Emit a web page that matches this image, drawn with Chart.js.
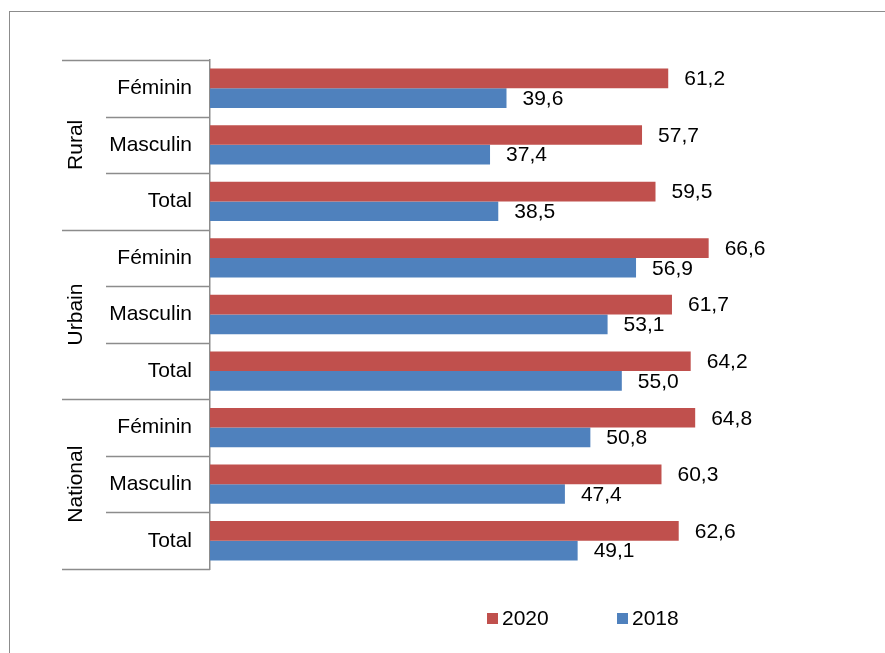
<!DOCTYPE html>
<html>
<head>
<meta charset="utf-8">
<script src="https://cdn.jsdelivr.net/npm/chart.js@4"></script>
<style>
    body { margin: 0; background: #fff; overflow: hidden; }
    #frame { position: absolute; left: 9px; top: 11px; width: 900px; height: 700px; border: 1.5px solid #8c8c8c; }
    #barChart { position: absolute; left: 0; top: 0; }
</style>
</head>
<body>
<div id="frame"></div>
<canvas id="barChart" width="885" height="653"></canvas>
<script>
const categories = ["Féminin", "Masculin", "Total", "Féminin", "Masculin", "Total", "Féminin", "Masculin", "Total"];
const groups = ["Rural", "Urbain", "National"];
const seriesNames = ["2020", "2018"];
const values2020 = [61.2, 57.7, 59.5, 66.6, 61.7, 64.2, 64.8, 60.3, 62.6];
const values2018 = [39.6, 37.4, 38.5, 56.9, 53.1, 55.0, 50.8, 47.4, 49.1];

const colors = ["#C0504D", "#4F81BD"];
const FONT = '"Liberation Sans", Arial, sans-serif';
const LINE = "#8c8c8c";

// draws the group labels, row separators, value labels and legend
const extras = {
    id: "extras",
    afterDraw(chart) {
        const ctx = chart.ctx;
        const area = chart.chartArea;
        const yScale = chart.scales.y;
        const n = categories.length;
        const step = (area.bottom - area.top) / n;

        ctx.save();
        ctx.strokeStyle = LINE;
        ctx.lineWidth = 1.5;
        for (let i = 0; i <= n; i++) {
            const y = Math.round(area.top + i * step) + 0.5;
            ctx.beginPath();
            ctx.moveTo(i % 3 === 0 ? 62 : 106, y);
            ctx.lineTo(area.left, y);
            ctx.stroke();
        }

        ctx.fillStyle = "#000";
        ctx.font = "21px " + FONT;
        ctx.textAlign = "center";
        ctx.textBaseline = "middle";
        groups.forEach((g, gi) => {
            const yc = (yScale.getPixelForValue(gi * 3) + yScale.getPixelForValue(gi * 3 + 2)) / 2;
            ctx.save();
            ctx.translate(76, yc);
            ctx.rotate(-Math.PI / 2);
            ctx.fillText(g, 0, 0);
            ctx.restore();
        });

        // value labels
        ctx.textAlign = "left";
        chart.data.datasets.forEach((ds, di) => {
            const meta = chart.getDatasetMeta(di);
            meta.data.forEach((el, i) => {
                const txt = ds.data[i].toFixed(1).replace(".", ",");
                ctx.fillText(txt, el.x + 16, el.y + 1);
            });
        });

        // legend
        const legendX = [487, 617];
        seriesNames.forEach((name, i) => {
            ctx.fillStyle = colors[i];
            ctx.fillRect(legendX[i], 613, 11, 11);
            ctx.fillStyle = "#000";
            ctx.fillText(name, legendX[i] + 15, 619);
        });
        ctx.restore();
    }
};

new Chart(document.getElementById("barChart"), {
    type: "bar",
    data: {
        labels: categories,
        datasets: [
            {
                label: seriesNames[0],
                data: values2020,
                backgroundColor: colors[0],
                barPercentage: 1,
                categoryPercentage: 0.695
            },
            {
                label: seriesNames[1],
                data: values2018,
                backgroundColor: colors[1],
                barPercentage: 1,
                categoryPercentage: 0.695
            }
        ]
    },
    options: {
        indexAxis: "y",
        responsive: false,
        animation: false,
        layout: { padding: { top: 60, bottom: 84, right: 76, left: 0 } },
        plugins: {
            legend: { display: false },
            tooltip: { enabled: false }
        },
        scales: {
            x: { display: false, min: 0, max: 80 },
            y: {
                grid: { display: false, drawTicks: false },
                border: { display: true, color: LINE, width: 1.5 },
                ticks: { color: "#000", font: { size: 21, family: FONT }, padding: 18 },
                afterFit(scale) { scale.width = 210; }
            }
        }
    },
    plugins: [extras]
});
</script>
</body>
</html>
